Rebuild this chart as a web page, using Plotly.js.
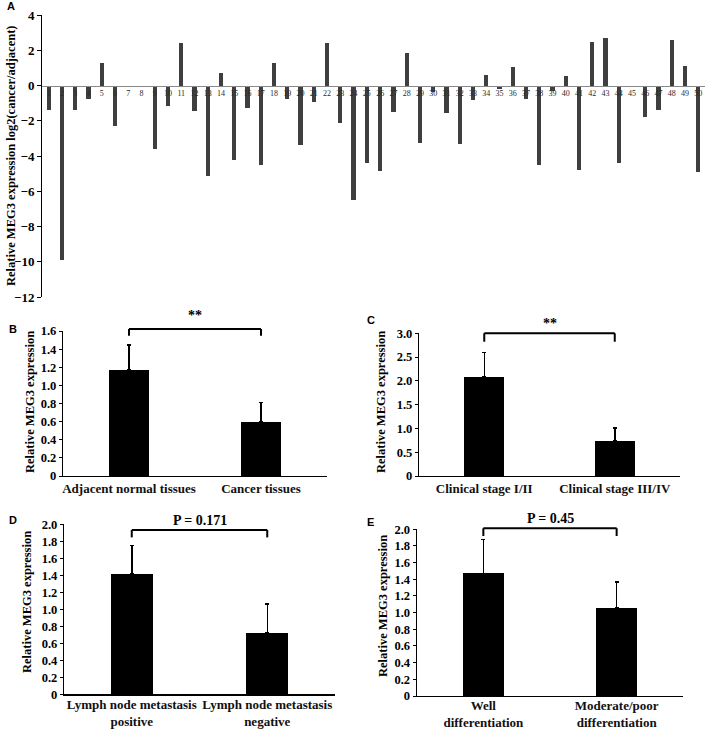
<!DOCTYPE html>
<html>
<head>
<meta charset="utf-8">
<script src="https://cdn.plot.ly/plotly-3.0.1.min.js"></script>
<style>
html,body{margin:0;padding:0;background:#fff;}
#chart{width:709px;height:731px;}
</style>
</head>
<body>
<div id="chart"></div>
<script>
// ---------- Panel A data ----------
const sampleIds = ['1','2','3','4','5','6','7','8','9','10','11','12','13','14','15','16','17','18','19','20',
  '21','22','23','24','25','26','27','28','29','30','31','32','33','34','35','36','37','38','39','40',
  '41','42','43','44','45','46','47','48','49','50'];
const log2Ratio = [-1.40, -9.90, -1.40, -0.75, 1.29, -2.30, -0.04, -0.02, -3.60, -1.18,
  2.40, -1.42, -5.15, 0.73, -4.24, -1.27, -4.50, 1.29, -0.77, -3.40,
  -0.96, 2.42, -2.15, -6.50, -4.38, -4.83, -1.52, 1.85, -3.28, -0.37,
  -1.55, -3.30, -0.84, 0.58, -0.17, 1.03, -0.79, -4.53, -0.34, 0.54,
  -4.79, 2.49, 2.70, -4.42, 0, -1.76, -1.37, 2.60, 1.12, -4.89];
const aTicks = [4, 2, 0, -2, -4, -6, -8, -10, -12];

// ---------- Panel B ----------
const bCats = ['Adjacent normal tissues', 'Cancer tissues'];
const bMeans = [1.175, 0.60];
const bErr = [0.27, 0.21];
const bTicks = [0, 0.2, 0.4, 0.6, 0.8, 1.0, 1.2, 1.4, 1.6];
const bTickText = ['0', '0.2', '0.4', '0.6', '0.8', '1.0', '1.2', '1.4', '1.6'];

// ---------- Panel C ----------
const cCats = ['Clinical stage I/II', 'Clinical stage III/IV'];
const cMeans = [2.09, 0.735];
const cErr = [0.51, 0.27];
const cTicks = [0, 0.5, 1.0, 1.5, 2.0, 2.5, 3.0];
const cTickText = ['0', '0.5', '1.0', '1.5', '2.0', '2.5', '3.0'];

// ---------- Panel D ----------
const dCats = ['Lymph node metastasis<br>positive', 'Lymph node metastasis<br>negative'];
const dMeans = [1.415, 0.72];
const dErr = [0.335, 0.34];
const deTicks = [0, 0.2, 0.4, 0.6, 0.8, 1.0, 1.2, 1.4, 1.6, 1.8, 2.0];
const deTickText = ['0', '0.2', '0.4', '0.6', '0.8', '1.0', '1.2', '1.4', '1.6', '1.8', '2.0'];

// ---------- Panel E ----------
const eCats = ['Well<br>differentiation', 'Moderate/poor<br>differentiation'];
const eMeans = [1.47, 1.06];
const eErr = [0.41, 0.31];

// ---------- significance labels ----------
const sigLabels = ['**', '**', 'P = 0.171', 'P = 0.45'];
const panelLetters = ['A', 'B', 'C', 'D', 'E'];

const W = 709, H = 731;
const px = v => v / W;
const py = v => 1 - v / H;
const SERIF = 'Liberation Serif, Times New Roman, serif';

function summaryBar(cats, means, errs, xa, ya) {
  return {
    type: 'bar', x: cats, y: means, xaxis: xa, yaxis: ya,
    width: 0.31,
    marker: {color: '#000000', line: {width: 0}},
    error_y: {type: 'data', symmetric: false, array: errs, arrayminus: errs.map(() => 0),
      color: '#000000', thickness: 1.5, width: 2},
    hoverinfo: 'none', showlegend: false
  };
}

const traces = [
  {type: 'bar', x: sampleIds, y: log2Ratio, xaxis: 'x', yaxis: 'y',
   width: 0.32, marker: {color: '#3f3f3f', line: {width: 0}}, hoverinfo: 'none', showlegend: false},
  summaryBar(bCats, bMeans, bErr, 'x2', 'y2'),
  summaryBar(cCats, cMeans, cErr, 'x3', 'y3'),
  summaryBar(dCats, dMeans, dErr, 'x4', 'y4'),
  summaryBar(eCats, eMeans, eErr, 'x5', 'y5')
];

const tickFontBold = {family: SERIF, size: 12.5, color: '#000', weight: 'bold'};

function catX(domain) {
  return {domain: domain, type: 'category', range: [-0.5, 1.5], showline: true, linecolor: '#000', linewidth: 1.2,
    ticks: '', showgrid: false, zeroline: false, tickfont: {family: SERIF, size: 13, color: '#111', weight: 'bold'},
    fixedrange: true};
}
function valY(domain, range, tv, tt, xa) {
  return {domain: domain, range: range, anchor: xa, tickmode: 'array', tickvals: tv, ticktext: tt,
    showline: true, linecolor: '#000', linewidth: 1.2, ticks: 'outside', ticklen: 3, tickwidth: 1, tickcolor: '#000',
    showgrid: false, zeroline: false, tickfont: tickFontBold, fixedrange: true};
}

// domains (paper fractions) derived from the reference panel geometry
const aYdom = [py(297), py(15)];
const aRange = [-12, 4];
const aZeroPos = aYdom[0] + (0 - aRange[0]) / (aRange[1] - aRange[0]) * (aYdom[1] - aYdom[0]);

const layout = {
  width: W, height: H, margin: {l: 0, r: 0, t: 0, b: 0}, paper_bgcolor: '#fff', plot_bgcolor: 'rgba(0,0,0,0)',
  showlegend: false, bargap: 0,
  xaxis: {domain: [px(42), px(705)], type: 'category', anchor: 'free', position: aZeroPos,
    showline: true, linecolor: '#8a8a8a', linewidth: 1.5, ticks: '', showgrid: false, zeroline: false,
    tickfont: {family: SERIF, size: 8, color: '#2a2a2a'}, tickangle: 0, ticklabelstandoff: -1, fixedrange: true},
  yaxis: {domain: aYdom, range: aRange, anchor: 'x', tickmode: 'array', tickvals: aTicks,
    showline: true, linecolor: '#000', linewidth: 1, ticks: 'outside', ticklen: 4, tickcolor: '#000',
    showgrid: false, zeroline: false, tickfont: {family: SERIF, size: 13, color: '#000', weight: 'bold'},
    fixedrange: true, position: px(42)},
  xaxis2: Object.assign(catX([px(63), px(327)]), {anchor: 'y2'}),
  yaxis2: valY([py(476), py(331)], [0, 1.6], bTicks, bTickText, 'x2'),
  xaxis3: Object.assign(catX([px(419), px(680)]), {anchor: 'y3'}),
  yaxis3: valY([py(476), py(333.3)], [0, 3.0], cTicks, cTickText, 'x3'),
  xaxis4: Object.assign(catX([px(64), px(335)]), {anchor: 'y4', ticklabelstandoff: -2}),
  yaxis4: valY([py(694.3), py(524.3)], [0, 2.0], deTicks, deTickText, 'x4'),
  xaxis5: Object.assign(catX([px(416.7), px(683.3)]), {anchor: 'y5', ticklabelstandoff: -3}),
  yaxis5: valY([py(696), py(529.3)], [0, 2.0], deTicks, deTickText, 'x5'),
  shapes: [],
  annotations: []
};

// significance brackets: [xaxis, yaxis, top(domain frac), leg bottom(domain frac)]
const brackets = [
  ['x2', 'y2', 1.014, 0.968],
  ['x3', 'y3', 1.0, 0.941],
  ['x4', 'y4', 0.966, 0.923],
  ['x5', 'y5', 1.006, 0.96]
];
const bracketLabelY = [315, 323, 520, 518];
const catSets = [bCats, cCats, dCats, eCats];
brackets.forEach((b, i) => {
  const [xa, ya, top, bot] = b;
  const c0 = catSets[i][0], c1 = catSets[i][1];
  const ln = {color: '#000', width: 2};
  layout.shapes.push({type: 'line', xref: xa, yref: ya + ' domain', x0: c0, x1: c1, y0: top, y1: top, line: ln});
  layout.shapes.push({type: 'line', xref: xa, yref: ya + ' domain', x0: c0, x1: c0, y0: top, y1: bot, line: ln});
  layout.shapes.push({type: 'line', xref: xa, yref: ya + ' domain', x0: c1, x1: c1, y0: top, y1: bot, line: ln});
  layout.annotations.push({xref: xa, yref: 'paper', x: 0.5, y: py(bracketLabelY[i]), text: sigLabels[i],
    showarrow: false, xanchor: 'center', yanchor: 'middle',
    font: {family: SERIF, size: 14, color: '#000', weight: 'bold'}});
});

// panel letters
const letterPos = [[5, 6], [7, 329], [365, 320], [7, 520], [365, 522]];
panelLetters.forEach((L, i) => {
  layout.annotations.push({xref: 'paper', yref: 'paper', x: px(letterPos[i][0]), y: py(letterPos[i][1]),
    text: L, showarrow: false, xanchor: 'left', yanchor: 'middle',
    font: {family: 'Liberation Sans, Arial, sans-serif', size: 11, color: '#000', weight: 'bold'}});
});

// y-axis titles
const yTitles = [
  ['Relative MEG3 expression log2(cancer/adjacent)', 11, 156],
  ['Relative MEG3 expression', 30, 402],
  ['Relative MEG3 expression', 381, 402],
  ['Relative MEG3 expression', 27, 602],
  ['Relative MEG3 expression', 383, 606]
];
yTitles.forEach(t => {
  layout.annotations.push({xref: 'paper', yref: 'paper', x: px(t[1]), y: py(t[2]), text: t[0],
    textangle: -90, showarrow: false, xanchor: 'center', yanchor: 'middle',
    font: {family: SERIF, size: 12.5, color: '#000', weight: 'bold'}});
});

Plotly.newPlot('chart', traces, layout, {staticPlot: true, displayModeBar: false});
</script>
</body>
</html>
